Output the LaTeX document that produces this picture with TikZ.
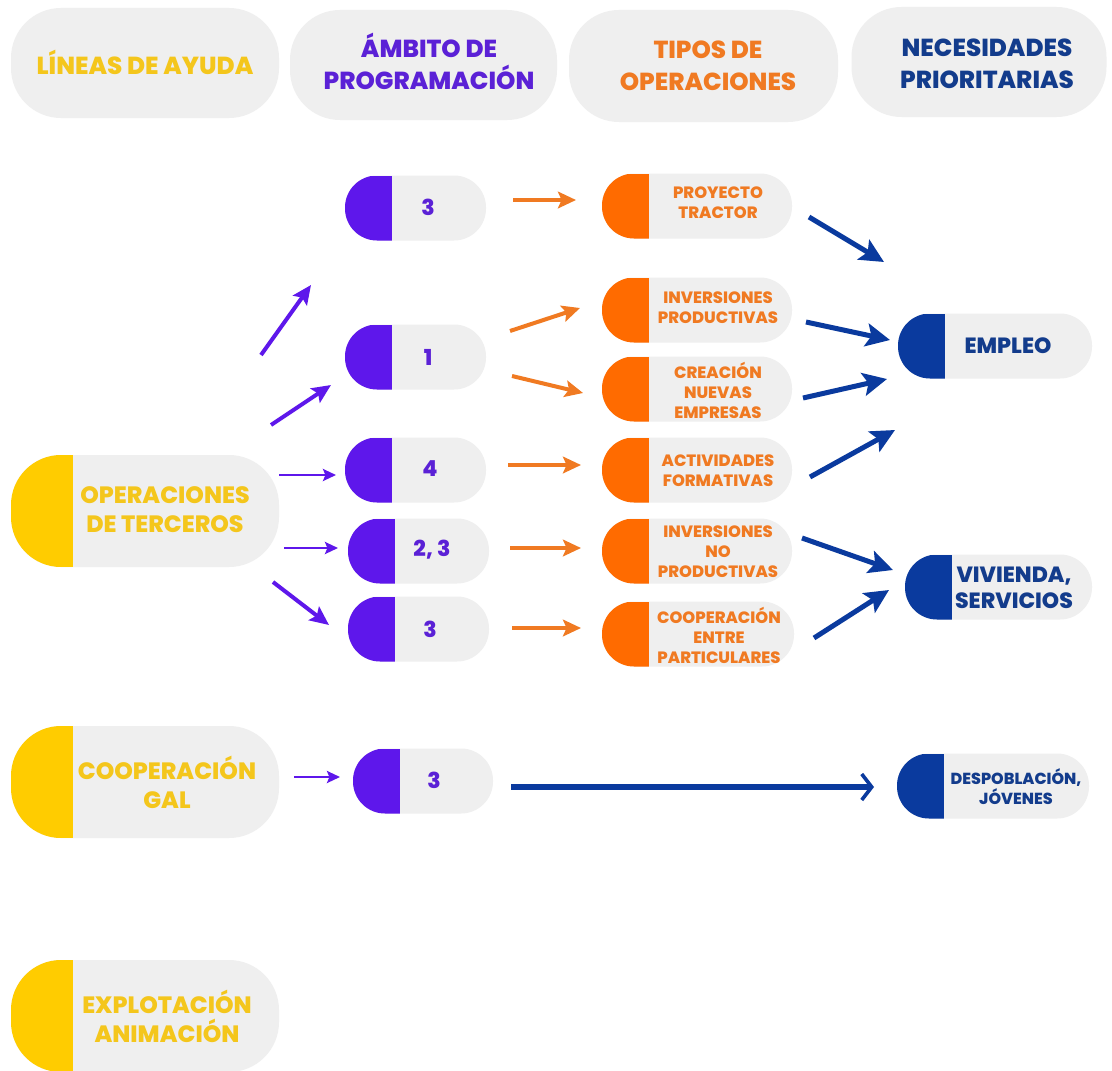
\documentclass[tikz,border=0pt]{standalone}
\usepackage{fontspec}
\setmainfont{Poppins}[BoldFont={* ExtraBold}]
\usetikzlibrary{arrows.meta}
\definecolor{pgray}{HTML}{EFEFEF}
\definecolor{yel}{HTML}{FFCC00}
\definecolor{yeltxt}{HTML}{F4C61C}
\definecolor{pur}{HTML}{5E17EB}
\definecolor{purtxt}{HTML}{5B21D6}
\definecolor{ora}{HTML}{FF6B00}
\definecolor{oratxt}{HTML}{F07A22}
\definecolor{blu}{HTML}{0A3A9E}
\definecolor{blutxt}{HTML}{133C8C}
\begin{document}
\begin{tikzpicture}[x=0.5pt,y=-0.5pt,
  hdr/.style={fill=pgray, rounded corners=25pt, minimum width=#1, minimum height=55pt, inner sep=0pt},
  pill/.style 2 args={fill=pgray, inner sep=0pt,
    path picture={\fill[#1, sharp corners] (path picture bounding box.south west) rectangle ([xshift=#2]path picture bounding box.north west);}},
  small/.style={pill={#1}{23.5pt}, minimum height=32.5pt, rounded corners=16pt},
  big/.style={pill={yel}{31pt}, minimum width=134pt, minimum height=56pt, rounded corners=25pt},
  htxt/.style={font=\fontsize{12.3}{16}\selectfont\bfseries, align=center, inner sep=0pt},
  ytxt/.style={font=\fontsize{11.8}{14.5}\selectfont\bfseries, align=center, inner sep=0pt, text=yeltxt},
  ptxt/.style={font=\fontsize{11}{12}\selectfont\bfseries, inner sep=0pt, text=purtxt},
  otxt/.style={font=\fontsize{8.2}{10}\selectfont\bfseries, align=center, inner sep=0pt, text=oratxt},
  btxt/.style={font=\fontsize{11}{12.8}\selectfont\bfseries, align=center, inner sep=0pt, text=blutxt},
  barr/.style={draw=blu, line width=2.5pt, -{Stealth[length=12pt,width=11.5pt,inset=2.5pt]}},
  oarr/.style={draw=oratxt, line width=2pt, -{Stealth[length=9pt,width=8.3pt,inset=1.8pt]}},
  parr/.style={draw=pur, line width=2pt, -{Stealth[length=9.5pt,width=8.5pt,inset=1.8pt]}},
  pthin/.style={draw=pur, line width=1.3pt, -{Stealth[length=6.5pt,width=6pt,inset=1.2pt]}},
]
\useasboundingbox (0,0) rectangle (1112,1070);
\fill[white] (0,0) rectangle (1112,1070);

% headers
\node[hdr=134pt] (h1) at (145,63) {};
\node[hdr=133.5pt] (h2) at (423.5,65) {};
\node[hdr=134.5pt, minimum height=56pt] (h3) at (703.5,66) {};
\node[hdr=127.5pt] (h4) at (979,62) {};
\node[htxt, text=yeltxt] (h1t) at (145,62) {LÍNEAS DE AYUDA};
\node[htxt, text=purtxt] (h2t) at (429,61) {ÁMBITO DE\\PROGRAMACIÓN};
\node[htxt, text=oratxt] (h3t) at (708,66) {TIPOS DE\\OPERACIONES};
\node[htxt, text=blutxt] (h4t) at (987,64) {NECESIDADES\\PRIORITARIAS};

% yellow pills
\node[big] (y1) at (145,511) {};
\node[big] (y2) at (145,782) {};
\node[big] (y3) at (145,1016) {};
\node[ytxt] (y1t) at (165,510) {OPERACIONES\\DE TERCEROS};
\node[ytxt] (y2t) at (167,782) {COOPERACIÓN\\GAL};
\node[ytxt] (y3t) at (167,1016) {EXPLOTACIÓN\\ANIMACIÓN};

% purple pills
\node[small=pur, minimum width=70.5pt] (pa) at (415.5,208) {};
\node[small=pur, minimum width=70.5pt] (pb) at (415.5,357) {};
\node[small=pur, minimum width=70.5pt] (pc) at (415.5,470) {};
\node[small=pur, minimum width=70.5pt] (pd) at (418.5,551) {};
\node[small=pur, minimum width=70.5pt] (pe) at (418.5,629) {};
\node[small=pur, minimum width=70pt] (pf) at (423,781) {};
\node[ptxt] (pat) at (428,207) {3};
\node[ptxt] (pbt) at (428,357) {1};
\node[ptxt] (pct) at (430,469) {4};
\node[ptxt] (pdt) at (432,550) {2, 3};
\node[ptxt] (pet) at (430,629) {3};
\node[ptxt] (pft) at (434,780) {3};

% orange pills
\node[small=ora, minimum width=95pt] (o1) at (697,206) {};
\node[small=ora, minimum width=95pt] (o2) at (697,310) {};
\node[small=ora, minimum width=95pt] (o3) at (697,389) {};
\node[small=ora, minimum width=95pt] (o4) at (697,470) {};
\node[small=ora, minimum width=95pt] (o5) at (697,551) {};
\node[small=ora, minimum width=96pt] (o6) at (698,634) {};
\node[otxt] (o1t) at (718,203) {PROYECTO\\TRACTOR};
\node[otxt] (o2t) at (718,308) {INVERSIONES\\PRODUCTIVAS};
\node[otxt] (o3t) at (718,390) {CREACIÓN\\NUEVAS\\EMPRESAS};
\node[otxt] (o4t) at (718,471) {ACTIVIDADES\\FORMATIVAS};
\node[otxt] (o5t) at (718,552) {INVERSIONES\\NO\\PRODUCTIVAS};
\node[otxt] (o6t) at (719,635) {COOPERACIÓN\\ENTRE\\PARTICULARES};

% blue pills
\node[small=blu, minimum width=97pt] (b1) at (995,346) {};
\node[small=blu, minimum width=93.5pt] (b2) at (998.5,587) {};
\node[small=blu, minimum width=96pt] (b3) at (993,786) {};
\node[btxt] (b1t) at (1008,346) {EMPLEO};
\node[btxt] (b2t) at (1014,588) {VIVIENDA,\\SERVICIOS};
\node[btxt, font=\fontsize{8}{10}\selectfont\bfseries] (b3t) at (1016,787) {DESPOBLACIÓN,\\JÓVENES};

% arrow end points
\coordinate (a1s) at (261,355); \coordinate (a1e) at (311,285);
\coordinate (a2s) at (271,425); \coordinate (a2e) at (331,385);
\coordinate (a3s) at (279,475); \coordinate (a3e) at (336,475);
\coordinate (a4s) at (284,548); \coordinate (a4e) at (338,548);
\coordinate (a5s) at (273,582); \coordinate (a5e) at (329,625);
\coordinate (a6s) at (294,777); \coordinate (a6e) at (340,777);
\coordinate (c1s) at (513,200); \coordinate (c1e) at (576,200);
\coordinate (c2s) at (510,331); \coordinate (c2e) at (580,308);
\coordinate (c3s) at (512,376); \coordinate (c3e) at (583,393);
\coordinate (c4s) at (508,465); \coordinate (c4e) at (581,465);
\coordinate (c5s) at (510,548); \coordinate (c5e) at (581,548);
\coordinate (c6s) at (512,628); \coordinate (c6e) at (581,628);
\coordinate (d1s) at (809,217); \coordinate (d1e) at (884,262);
\coordinate (d2s) at (806,322); \coordinate (d2e) at (890,340);
\coordinate (d3s) at (803,398); \coordinate (d3e) at (887,379);
\coordinate (d4s) at (810,477); \coordinate (d4e) at (895,430);
\coordinate (d5s) at (802,538); \coordinate (d5e) at (893,570);
\coordinate (d6s) at (814,638); \coordinate (d6e) at (889,590);
\coordinate (ls) at (511,787); \coordinate (le) at (874,787);

\draw[parr] (a1s) -- (a1e);
\draw[parr] (a2s) -- (a2e);
\draw[pthin] (a3s) -- (a3e);
\draw[pthin] (a4s) -- (a4e);
\draw[parr] (a5s) -- (a5e);
\draw[pthin] (a6s) -- (a6e);
\draw[oarr] (c1s) -- (c1e);
\draw[oarr] (c2s) -- (c2e);
\draw[oarr] (c3s) -- (c3e);
\draw[oarr] (c4s) -- (c4e);
\draw[oarr] (c5s) -- (c5e);
\draw[oarr] (c6s) -- (c6e);
\draw[barr] (d1s) -- (d1e);
\draw[barr] (d2s) -- (d2e);
\draw[barr] (d3s) -- (d3e);
\draw[barr] (d4s) -- (d4e);
\draw[barr] (d5s) -- (d5e);
\draw[barr] (d6s) -- (d6e);
\draw[draw=blu, line width=3pt, -{Straight Barb[length=5pt,width=13pt,line width=1.8pt]}] (ls) -- (le);
\end{tikzpicture}
\end{document}
